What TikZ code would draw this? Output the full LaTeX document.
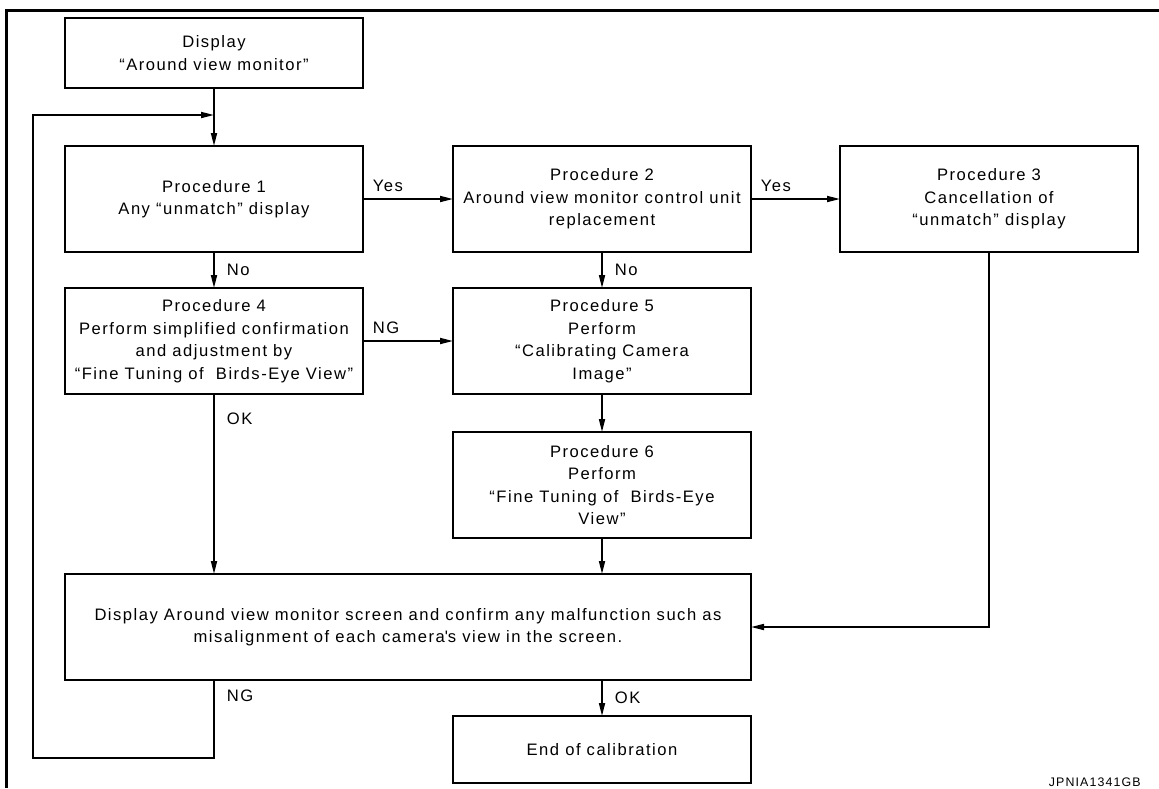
\documentclass[tikz,border=0pt]{standalone}
\usepackage{fontspec}
\setmainfont{Liberation Sans}[LetterSpace=9]
\usepackage{tikz}
\usetikzlibrary{arrows.meta,positioning}

\begin{document}
\begin{tikzpicture}[
  x=0.5pt,y=-0.5pt,
  node distance=18pt and 45pt,
  box/.style={draw,line width=0.85pt,align=center,minimum width=149pt,minimum height=53pt,inner sep=2pt,outer sep=0pt,font=\fontsize{8.3}{11.25}\selectfont},
  arr/.style={-{Triangle[length=6.5pt,width=3pt]},line width=0.85pt},
  toplbl/.style={anchor=south west,inner sep=0pt,xshift=4.5pt,yshift=3pt,font=\fontsize{8.3}{11.25}\selectfont},
  sidelbl/.style={anchor=west,inner sep=0pt,xshift=6pt,font=\fontsize{8.3}{11.25}\selectfont}
]
\useasboundingbox (0,0) rectangle (1159,788);
\clip (0,0) rectangle (1159,788);
\draw[line width=1.5pt] (6.5,788) |- (1159,10);

\node[box,minimum height=35pt] (disp) at (214,53) {Display\\“Around view monitor”};
\node[box,below=29pt of disp] (proc1) {Procedure 1\\Any “unmatch” display};
\node[box,right=of proc1] (proc2) {Procedure 2\\Around view monitor control unit\\replacement};
\node[box,right=44.5pt of proc2] (proc3) {Procedure 3\\Cancellation of\\“unmatch” display};
\node[box,below=of proc1] (proc4) {Procedure 4\\Perform simplified confirmation\\and adjustment by\\“Fine Tuning of~ Birds-Eye View”};
\node[box,below=of proc2] (proc5) {Procedure 5\\Perform\\“Calibrating Camera\\Image”};
\node[box,below=19pt of proc5] (proc6) {Procedure 6\\Perform\\“Fine Tuning of~ Birds-Eye\\View”};
\node[box,below=of proc6.south east,anchor=north east,minimum width=343pt] (main) {Display Around view monitor screen and confirm any malfunction such as\\misalignment of each camera\textquotesingle s view in the screen.};
\node[box,below=18pt of main.south east,anchor=north east,minimum height=33.5pt] (end) {End of calibration};
\coordinate[below=13.5pt of disp] (join);
\node[anchor=base east,inner sep=0pt,font=\fontsize{6.2}{7}\selectfont] (code) at (1141,786) {JPNIA1341GB};

\draw[arr] (disp) -- (proc1);
\draw[arr] (proc1) -- node[toplbl,pos=0] {Yes} (proc2);
\draw[arr] (proc2) -- node[toplbl,pos=0] {Yes} (proc3);
\draw[arr] (proc1) -- node[sidelbl,midway] {No} (proc4);
\draw[arr] (proc2) -- node[sidelbl,midway] {No} (proc5);
\draw[arr] (proc4) -- node[toplbl,pos=0] {NG} (proc5);
\draw[arr] (proc5) -- (proc6);
\draw[arr] (proc4) -- node[sidelbl,pos=0,anchor=north west,yshift=-9.25pt] {OK} (proc4 |- main.north);
\draw[arr] (proc6) -- (proc6 |- main.north);
\draw[arr] (proc3) |- (main);
\draw[arr] (main.south -| end) -- node[sidelbl,midway] {OK} (end);
\draw[arr] (main.south -| join) -- node[sidelbl,pos=0.2] {NG} ++(0,78) -| ([xshift=-16pt]join -| main.west) -- (join);
\end{tikzpicture}
\end{document}
